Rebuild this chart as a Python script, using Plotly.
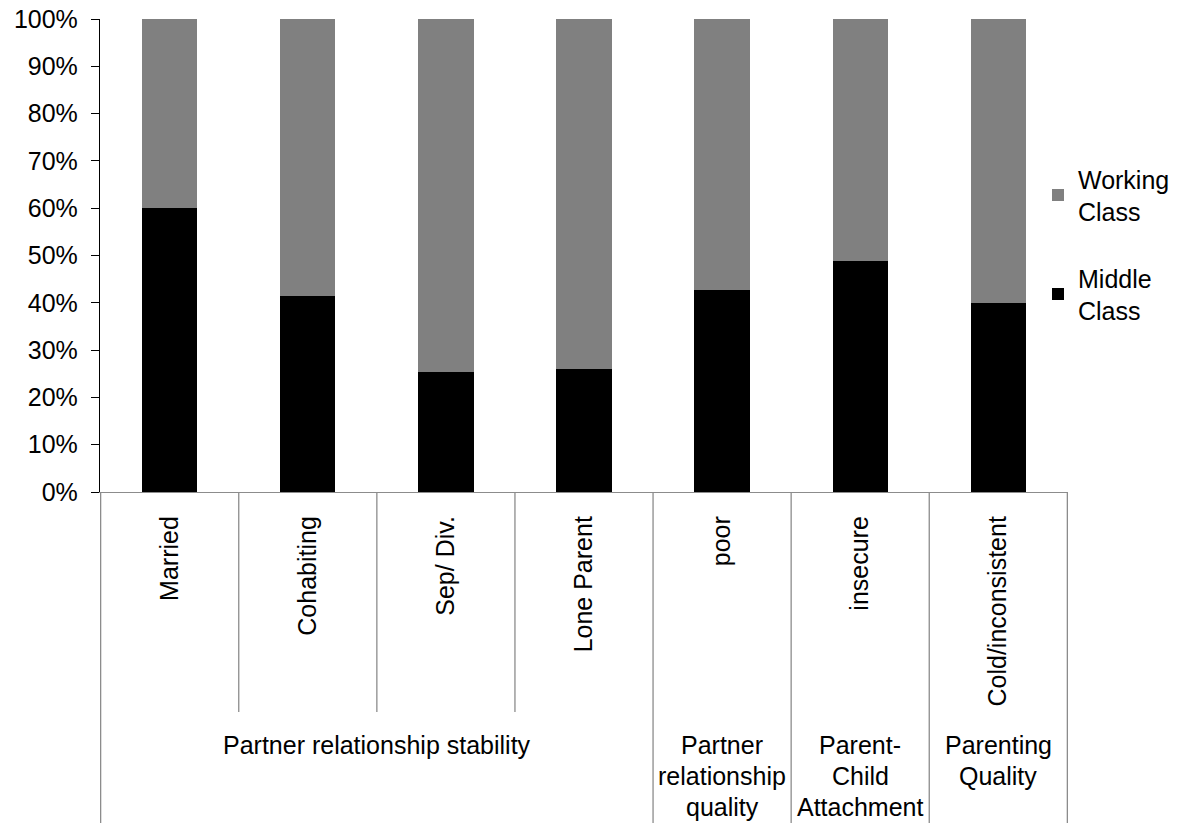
import plotly.graph_objects as go

categories = ["Married", "Cohabiting", "Sep/ Div.", "Lone Parent", "poor", "insecure", "Cold/inconsistent"]
groups = ["Partner relationship stability", "Partner relationship stability", "Partner relationship stability",
          "Partner relationship stability", "Partner<br>relationship<br>quality", "Parent-<br>Child<br>Attachment",
          "Parenting<br>Quality"]
middle_class = [0.600, 0.414, 0.254, 0.261, 0.428, 0.489, 0.399]
working_class = [1 - v for v in middle_class]

FONT = "Arial, Liberation Sans, sans-serif"
W, H = 1182, 823
L, R, T, B = 100, 114, 19, 331
plot_h = H - T - B
plot_w = W - L - R

fig = go.Figure()
fig.add_trace(go.Bar(x=categories, y=middle_class, name="Middle<br>Class",
                     marker=dict(color="#000000", line=dict(width=0)), legendgroup="m", legendrank=2))
fig.add_trace(go.Bar(x=categories, y=working_class, name="Working<br>Class",
                     marker=dict(color="#808080", line=dict(width=0)), legendgroup="w", legendrank=1))

def py(pixel_y):
    return (H - B - pixel_y) / plot_h

def px(pixel_x):
    return (pixel_x - L) / plot_w

shapes = []
group_starts = set()
for i, g in enumerate(groups):
    if i == 0 or groups[i - 1] != g:
        group_starts.add(i)
for i in range(len(categories) + 1):
    full = (i in group_starts) or i == len(categories)
    shapes.append(dict(type="line", xref="x", yref="paper", x0=i - 0.5, x1=i - 0.5,
                       y0=0, y1=py(823) if full else py(712),
                       line=dict(color="#8c8c8c", width=1.3)))

annotations = []
seen = []
for g in groups:
    if g not in seen:
        seen.append(g)
for g in seen:
    idx = [i for i, gg in enumerate(groups) if gg == g]
    for k, line in enumerate(g.split("<br>")):
        annotations.append(dict(x=sum(idx) / len(idx), xref="x", y=py(729 + 31 * k), yref="paper",
                                text=line, showarrow=False, yanchor="top", xanchor="center",
                                font=dict(family=FONT, size=25, color="#000000")))

fig.update_layout(
    width=W, height=H,
    margin=dict(l=L, r=R, t=T, b=B, pad=0, autoexpand=False),
    barmode="stack", bargap=0.6,
    plot_bgcolor="white", paper_bgcolor="white",
    font=dict(family=FONT, size=25, color="#000000"),
    showlegend=True,
    legend=dict(traceorder="grouped", x=px(1038), xanchor="left", y=py(156), yanchor="top",
                font=dict(family=FONT, size=25, color="#000000"), tracegroupgap=31,
                itemwidth=30, bgcolor="rgba(0,0,0,0)"),
    shapes=shapes, annotations=annotations,
)
fig.update_xaxes(type="category", tickangle=-90, ticks="", showline=True, linecolor="#8c8c8c",
                 linewidth=1.3, showgrid=False, tickfont=dict(family=FONT, size=25, color="#000000"),
                 ticklabelstandoff=13, automargin=False)
fig.update_yaxes(range=[0, 1], dtick=0.1, tickformat=".0%", showgrid=False, showline=True,
                 linecolor="#000000", linewidth=1.3, ticks="outside", ticklen=8, tickcolor="#000000",
                 tickwidth=1.3, zeroline=False, tickfont=dict(family=FONT, size=25, color="#000000"),
                 ticklabelstandoff=8, automargin=False)

fig.write_html("out.html")
